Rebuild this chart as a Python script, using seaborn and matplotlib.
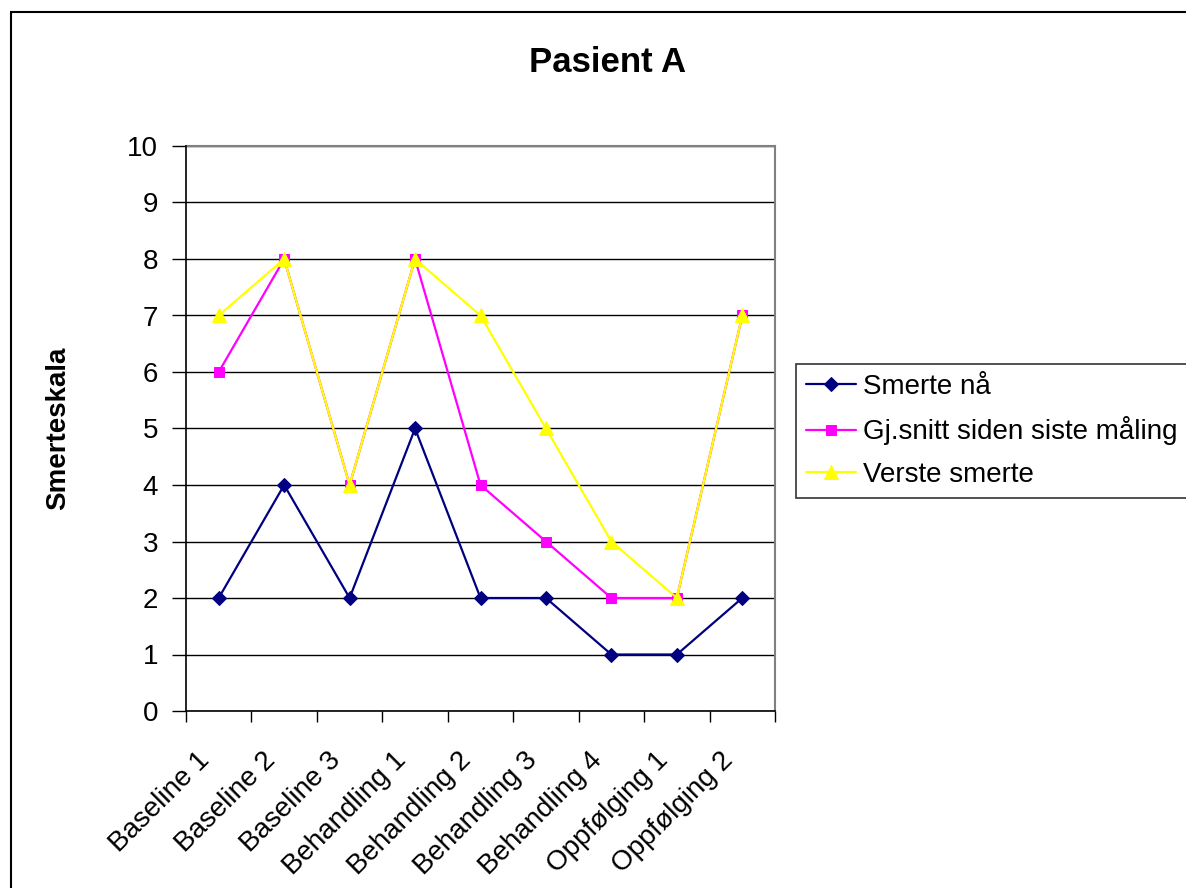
import matplotlib
matplotlib.use("Agg")
import matplotlib.pyplot as plt
from matplotlib.patches import Rectangle
from matplotlib.transforms import ScaledTranslation
import seaborn as sns
import pandas as pd
import numpy as np

categories = ["Baseline 1", "Baseline 2", "Baseline 3", "Behandling 1", "Behandling 2",
              "Behandling 3", "Behandling 4", "Oppfølging 1", "Oppfølging 2"]
smerte_naa = [2, 4, 2, 5, 2, 2, 1, 1, 2]
gjsnitt = [6, 8, 4, 8, 4, 3, 2, 2, 7]
verste = [7, 8, 4, 8, 7, 5, 3, 2, 7]
series_names = ["Smerte nå", "Gj.snitt siden siste måling", "Verste smerte"]
yticks = list(range(0, 11))

sns.set_theme(style="white")
plt.rcParams["font.family"] = ["Liberation Sans", "DejaVu Sans"]
plt.rcParams["text.color"] = "black"
plt.rcParams["axes.labelcolor"] = "black"
plt.rcParams["xtick.color"] = "black"
plt.rcParams["ytick.color"] = "black"

W, H = 1186, 888
fig = plt.figure(figsize=(W / 100, H / 100), dpi=100)
ax = fig.add_axes([186 / W, 1 - 711 / H, (775 - 186) / W, (711 - 146) / H])

colors = ["#000080", "#FF00FF", "#FFFF00"]
markers = ["D", "s", "^"]
msizes = [7.5, 7.5, 9.5]
values = [smerte_naa, gjsnitt, verste]

for name, vals, c, m, ms in zip(series_names, values, colors, markers, msizes):
    df = pd.DataFrame({"kategori": categories, "verdi": vals})
    sns.lineplot(data=df, x="kategori", y="verdi", ax=ax, sort=False, color=c,
                 marker=m, markersize=ms, markeredgecolor=c, markerfacecolor=c,
                 linewidth=1.6, label=name, legend=False, zorder=3)

ax.set_xlim(-0.5, len(categories) - 0.5)
ax.set_ylim(0, 10)
ax.set_yticks(yticks)
ax.set_yticklabels([str(t) for t in yticks], fontsize=20, color="black")
ax.yaxis.grid(True, color="black", linewidth=1.0)
ax.xaxis.grid(False)
ax.set_axisbelow(True)

ax.set_xticks(range(len(categories)))
ax.set_xticklabels(categories, fontsize=20, rotation=45, ha="right",
                   rotation_mode="anchor", va="center", color="black")
ax.set_xticks(np.arange(-0.5, len(categories)), minor=True)
ax.tick_params(axis="x", which="major", length=0, pad=33)
ax.tick_params(axis="x", which="minor", length=8, width=1, color="black", bottom=True)
ax.tick_params(axis="y", which="major", length=10, width=1, color="black", pad=10, left=True)
for lab in ax.get_xticklabels():
    lab.set_transform(lab.get_transform() + ScaledTranslation(-13 / 100, 0, fig.dpi_scale_trans))

ax.set_xlabel("")
ax.set_ylabel("")
for side in ["left", "bottom"]:
    ax.spines[side].set_color("black")
    ax.spines[side].set_linewidth(1.2)
for side in ["top", "right"]:
    ax.spines[side].set_color("#808080")
    ax.spines[side].set_linewidth(1.5)
ax.spines["left"].set_zorder(4)
ax.spines["bottom"].set_zorder(4)

fig.text(608 / W, 1 - 62 / H, "Pasient A", fontsize=25, fontweight="bold",
         ha="center", va="center", color="black")
fig.text(58 / W, 1 - 428 / H, "Smerteskala", fontsize=20, fontweight="bold",
         ha="center", va="center", rotation=90, color="black")

handles, labels = ax.get_legend_handles_labels()
leg = fig.legend(handles, labels, loc="upper left",
                 bbox_to_anchor=(796 / W, 1 - 364 / H), bbox_transform=fig.transFigure,
                 borderaxespad=0, fontsize=20, frameon=True, fancybox=False,
                 handlelength=1.8, handletextpad=0.26, labelspacing=0.6,
                 borderpad=0.35)
leg.get_frame().set_edgecolor("black")
leg.get_frame().set_linewidth(1.2)
for t in leg.get_texts():
    t.set_color("black")

frame = Rectangle((11 / W, -0.1), 1.2, 1 - 12 / H + 0.1, transform=fig.transFigure,
                  fill=False, edgecolor="black", linewidth=1.5, clip_on=False)
fig.add_artist(frame)

fig.savefig("out.png", dpi=100, facecolor="white")
